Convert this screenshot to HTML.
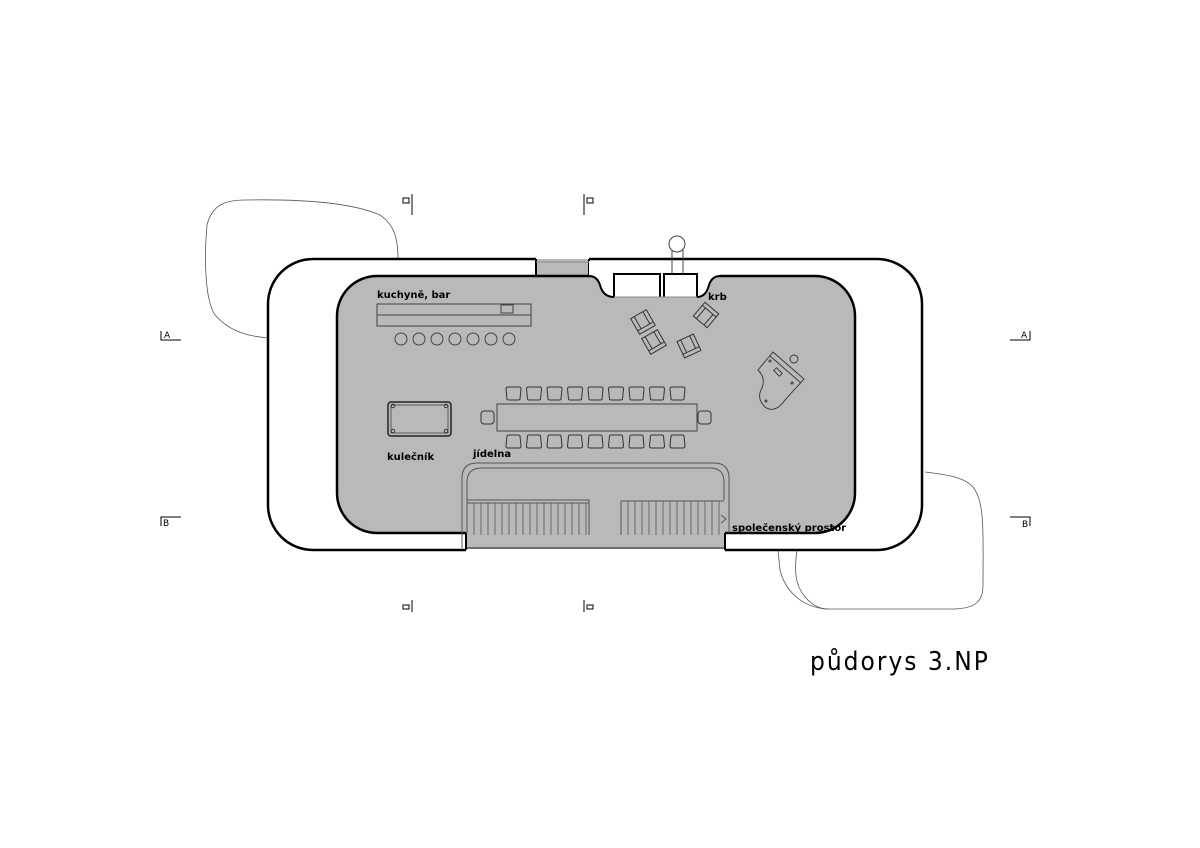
<!DOCTYPE html>
<html><head><meta charset="utf-8"><style>
html,body{margin:0;padding:0;background:#fff;width:1200px;height:848px;overflow:hidden}
svg{display:block}
text{font-family:"DejaVu Sans","Liberation Sans",sans-serif;font-weight:bold;fill:#000}
text.n{font-weight:normal}
</style></head><body>
<svg width="1200" height="848" viewBox="0 0 1200 848" xmlns="http://www.w3.org/2000/svg">
<!-- trees -->
<path d="M268,338 C245,336 228,330 215,315 C205,300 204,260 207,225 C212,205 225,200 245,200 C300,199 350,202 380,215 C395,225 398,240 398,259" fill="none" stroke="#555" stroke-width="0.8"/>
<path d="M925,472 C950,475 968,478 975,490 C985,505 983,540 983,585 C983,602 975,608 955,609 L825,609 C800,606 785,590 780,570 L778,550" fill="none" stroke="#555" stroke-width="0.8"/>
<path d="M797,550 C794,570 795,585 805,597 C812,605 820,609 828,609" fill="none" stroke="#555" stroke-width="0.8"/>
<!-- shell -->
<path d="M536,259 L313,259 A45,45 0 0 0 268,304 L268,505 A45,45 0 0 0 313,550 L466,550 M725,550 L877,550 A45,45 0 0 0 922,505 L922,304 A45,45 0 0 0 877,259 L589,259" fill="#fff" stroke="#000" stroke-width="2.5"/>
<!-- gray interior -->
<rect x="536" y="259" width="53" height="18" fill="#b9b9b9"/>
<line x1="536" y1="259" x2="536" y2="277" stroke="#000" stroke-width="2"/>
<line x1="589" y1="259" x2="589" y2="277" stroke="#000" stroke-width="2"/>
<line x1="536" y1="262" x2="589" y2="262" stroke="#888" stroke-width="1"/>
<path d="M377,276 L815,276 A40,40 0 0 1 855,316 L855,493 A40,40 0 0 1 815,533 L377,533 A40,40 0 0 1 337,493 L337,316 A40,40 0 0 1 377,276 Z" fill="#b9b9b9" stroke="#000" stroke-width="2.5"/>
<rect x="466" y="531" width="259" height="18" fill="#b9b9b9"/>
<line x1="466" y1="548" x2="725" y2="548" stroke="#555" stroke-width="1.5"/>
<line x1="466" y1="533" x2="466" y2="550" stroke="#000" stroke-width="2"/>
<line x1="725" y1="533" x2="725" y2="550" stroke="#000" stroke-width="2"/>
<!-- fireplace niche -->
<path d="M589,261 L589,276 Q597,276 600,285 Q603,297 614,297 L697,297 Q706,297 709,285 Q712,276 720,276 L720,261 Z" fill="#fff"/>
<path d="M589,276 Q597,276 600,285 Q603,297 614,297 M697,297 Q706,297 709,285 Q712,276 720,276" fill="none" stroke="#000" stroke-width="2"/>
<path d="M614,297 L614,274 L660,274 L660,297 M664,297 L664,274 L697,274 L697,297" fill="none" stroke="#000" stroke-width="2"/>
<line x1="614" y1="297" x2="697" y2="297" stroke="#888" stroke-width="1"/>
<path d="M672,274 L672,250 M683,274 L683,250" stroke="#444" stroke-width="1"/>
<circle cx="677" cy="244" r="8" fill="#fff" stroke="#444" stroke-width="1"/>
<!-- bar -->
<rect x="377" y="304" width="154" height="22" fill="none" stroke="#444" stroke-width="1"/>
<line x1="377" y1="315" x2="531" y2="315" stroke="#444" stroke-width="1"/>
<rect x="501" y="305" width="12" height="8" fill="none" stroke="#444" stroke-width="1"/>
<g fill="none" stroke="#444" stroke-width="1">
<circle cx="401" cy="339" r="6"/><circle cx="419" cy="339" r="6"/><circle cx="437" cy="339" r="6"/><circle cx="455" cy="339" r="6"/><circle cx="473" cy="339" r="6"/><circle cx="491" cy="339" r="6"/><circle cx="509" cy="339" r="6"/>
</g>
<!-- billiard -->
<rect x="388" y="402" width="63" height="34" rx="3" fill="none" stroke="#222" stroke-width="1.5"/>
<rect x="391" y="405" width="57" height="28" fill="none" stroke="#444" stroke-width="0.8"/>
<g fill="none" stroke="#222" stroke-width="0.8"><circle cx="393" cy="406" r="1.8"/><circle cx="446" cy="406" r="1.8"/><circle cx="393" cy="431" r="1.8"/><circle cx="446" cy="431" r="1.8"/></g>
<!-- dining -->
<rect x="497" y="404" width="200" height="27" fill="none" stroke="#444" stroke-width="1"/>
<g fill="none" stroke="#333" stroke-width="1">
<path id="ct" d="M508,387 h11 q2,0 2,2 l-1,10 q0,1 -2,1 h-9 q-2,0 -2,-1 l-1,-10 q0,-2 2,-2z"/>
<use href="#ct" x="20.5"/><use href="#ct" x="41"/><use href="#ct" x="61.5"/><use href="#ct" x="82"/><use href="#ct" x="102.5"/><use href="#ct" x="123"/><use href="#ct" x="143.5"/><use href="#ct" x="164"/>
<path id="cb" d="M508,448 h11 q2,0 2,-2 l-1,-10 q0,-1 -2,-1 h-9 q-2,0 -2,1 l-1,10 q0,2 2,2z"/>
<use href="#cb" x="20.5"/><use href="#cb" x="41"/><use href="#cb" x="61.5"/><use href="#cb" x="82"/><use href="#cb" x="102.5"/><use href="#cb" x="123"/><use href="#cb" x="143.5"/><use href="#cb" x="164"/>
<rect x="481" y="411" width="13" height="13" rx="3"/>
<rect x="698" y="411" width="13" height="13" rx="3"/>
</g>
<!-- armchairs -->
<g fill="none" stroke="#333" stroke-width="1">
<g transform="translate(643,322) rotate(-30)"><rect x="-9" y="-9" width="18" height="18"/><path d="M-9,5 h18 M-5,-9 v14 M5,-9 v14"/></g>
<g transform="translate(654,342) rotate(-30)"><rect x="-9" y="-9" width="18" height="18"/><path d="M-9,5 h18 M-5,-9 v14 M5,-9 v14"/></g>
<g transform="translate(706,315) rotate(40)"><rect x="-9" y="-9" width="18" height="18"/><path d="M-9,-5 h18 M-5,-5 v14 M5,-5 v14"/></g>
<g transform="translate(689,346) rotate(-25)"><rect x="-9" y="-9" width="18" height="18"/><path d="M-9,5 h18 M-5,-9 v14 M5,-9 v14"/></g>
</g>
<!-- piano -->
<g fill="none" stroke="#333" stroke-width="0.9">
<path d="M773,352 L804,379 L785,400 Q775,414 765,407 Q756,398 762,388 Q766,378 758,370 Z"/>
<line x1="770" y1="356" x2="801" y2="383"/>
<rect x="776" y="368" width="4" height="8" transform="rotate(-45 778 372)"/>
<circle cx="794" cy="359" r="4"/>
<circle cx="770" cy="361" r="1"/><circle cx="792" cy="383" r="1"/><circle cx="766" cy="401" r="1"/>
</g>
<!-- stairs -->
<g fill="none" stroke="#555" stroke-width="1">
<path d="M462,548 L462,478 Q462,463 477,463 L714,463 Q729,463 729,478 L729,533"/>
<path d="M467,533 L467,482 Q467,468 482,468 L710,468 Q724,468 724,482 L724,500"/>
<path d="M467,500 H589 V535 M467,503 H589"/>
<path d="M621,535 V501 H724"/>
<path d="M721,515 L726,519 L721,523"/>
</g>
<g stroke="#555" stroke-width="0.8">
<path d="M474,503V535M481,503V535M488,503V535M495,503V535M502,503V535M509,503V535M516,503V535M523,503V535M530,503V535M537,503V535M544,503V535M551,503V535M558,503V535M565,503V535M572,503V535M579,503V535M586,503V535"/>
<path d="M628,501V535M635,501V535M642,501V535M649,501V535M656,501V535M663,501V535M670,501V535M677,501V535M684,501V535M691,501V535M698,501V535M705,501V535M712,501V535M719,501V535"/>
</g>
<!-- labels -->
<text x="377" y="298" font-size="10">kuchyně, bar</text>
<text x="708" y="300" font-size="10">krb</text>
<text x="387" y="460" font-size="10">kulečník</text>
<text x="473" y="457" font-size="10">jídelna</text>
<text x="732" y="531" font-size="10">společenský prostor</text>
<!-- section marks -->
<g fill="none" stroke="#000" stroke-width="1">
<path d="M161,331 V340 H181"/><path d="M1030,331 V340 H1010"/>
<path d="M161,526 V517 H181"/><path d="M1030,526 V517 H1010"/>
<path d="M412,194 V215"/><path d="M412,612 V600"/>
<path d="M584,194 V215"/><path d="M584,612 V600"/>
<rect x="403" y="198" width="6" height="5"/><rect x="403" y="605" width="6" height="4"/>
<rect x="587" y="198" width="6" height="5"/><rect x="587" y="605" width="6" height="4"/>
</g>
<text class="n" x="164" y="338" font-size="9">A</text>
<text class="n" x="1021" y="338" font-size="9">A</text>
<text class="n" x="163" y="526" font-size="9">B</text>
<text class="n" x="1022" y="527" font-size="9">B</text>
<text class="n" x="810" y="670" font-size="26" letter-spacing="2" style="font-family:'DejaVu Sans Condensed','DejaVu Sans',sans-serif;font-weight:normal">půdorys 3.NP</text>
</svg>
</body></html>
